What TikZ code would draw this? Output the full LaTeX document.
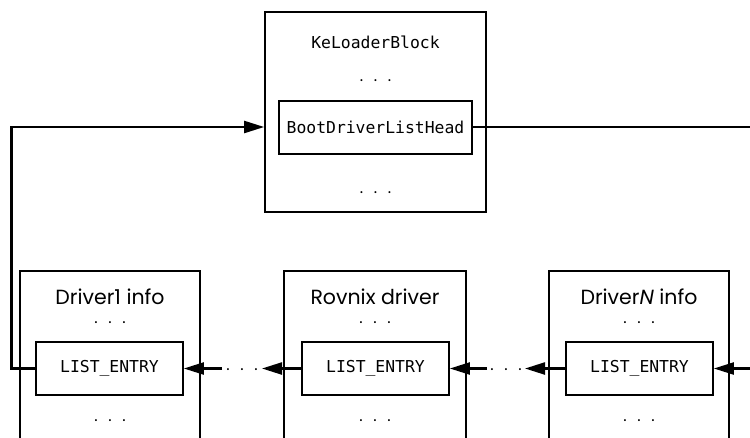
\documentclass[tikz,border=0pt]{standalone}
\usepackage{fontspec}
\setmainfont{Poppins}
\setmonofont{DejaVu Sans Mono}
\usetikzlibrary{arrows.meta}
\newcommand\mydots{\makebox[14pt]{.}\makebox[14pt]{.}\makebox[14pt]{.}}
\begin{document}
\begin{tikzpicture}[x=1pt,y=-1pt,
  box/.style={draw, line width=1.7pt, inner sep=0pt},
  mono/.style={font=\ttfamily\fontsize{16.4}{18}\selectfont},
  sans/.style={font=\fontsize{20.5}{22}\selectfont},
  dotsn/.style={font=\fontsize{16}{18}\selectfont, anchor=base, inner sep=0pt},
  conn/.style={draw, line width=2.3pt},
  arr/.style={conn, -{Triangle[length=20pt,width=12pt]}}]
\useasboundingbox (0,0) rectangle (750,437);
% top block
\node[box, minimum width=221pt, minimum height=200pt] (klb) at (375.5,112) {};
\node[mono] (klbt) at (375.5,42) {KeLoaderBlock};
\node[dotsn] (klbd1) at (375.5,81.5) {\mydots};
\node[box, mono, minimum width=193pt, minimum height=53pt] (bdlh) at (375.5,127.5) {BootDriverListHead};
\node[dotsn] (klbd2) at (375.5,193.5) {\mydots};
% Driver1
\node[box, minimum width=180pt, minimum height=176pt] (d1) at (110,359) {};
\node[sans] (d1t) at (110,297) {Driver1 info};
\node[dotsn] (d1d1) at (110,323.5) {\mydots};
\node[box, mono, minimum width=147pt, minimum height=53pt] (e1) at (109.5,368.5) {LIST\_ENTRY};
\node[dotsn] (d1d2) at (110,421.5) {\mydots};
% Rovnix
\node[box, minimum width=182pt, minimum height=176pt] (dR) at (375,359) {};
\node[sans] (dRt) at (375,297) {Rovnix driver};
\node[dotsn] (dRd1) at (375,323.5) {\mydots};
\node[box, mono, minimum width=147pt, minimum height=53pt] (eR) at (375.5,368.5) {LIST\_ENTRY};
\node[dotsn] (dRd2) at (375,421.5) {\mydots};
% DriverN
\node[box, minimum width=180pt, minimum height=176pt] (dN) at (639,359) {};
\node[sans] (dNt) at (639,297) {Driver\textit{N} info};
\node[dotsn] (dNd1) at (639,323.5) {\mydots};
\node[box, mono, minimum width=147pt, minimum height=53pt] (eN) at (639.5,368.5) {LIST\_ENTRY};
\node[dotsn] (dNd2) at (639,421.5) {\mydots};
% connectors
\coordinate (rtop) at (750,127);
\path[conn] (bdlh.east |- rtop) -- (rtop);
\coordinate (lcorner) at (11.5,127);
\path[arr] (e1.west) -| (lcorner) -- (lcorner -| klb.west);
\coordinate (rbot) at (750,368.5);
\path[arr] (rbot) -- (eN.east);
\coordinate (aN) at (525,368.5);
\path[arr] (eN.west) -- (aN);
\node[dotsn] (gN) at (506,370) {\mydots};
\coordinate (bN) at (487,368.5);
\path[arr] (bN) -- (eR.east);
\coordinate (aR) at (262,368.5);
\path[arr] (eR.west) -- (aR);
\node[dotsn] (gR) at (242,370) {\mydots};
\coordinate (bR) at (222,368.5);
\path[arr] (bR) -- (e1.east);
\end{tikzpicture}
\end{document}
